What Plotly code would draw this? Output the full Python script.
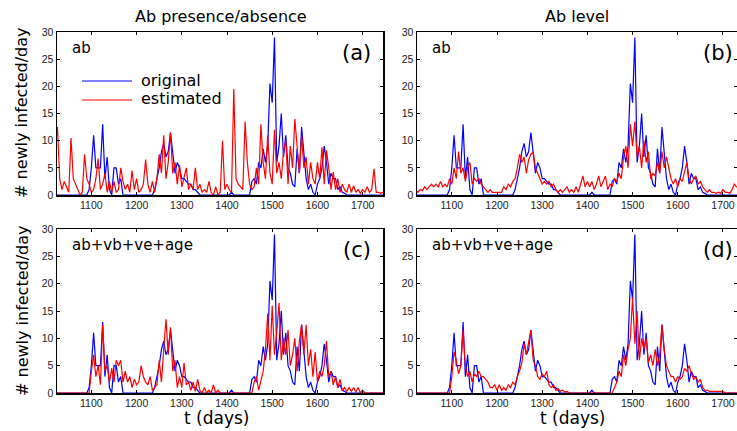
import plotly.graph_objects as go

# ---------------- data (5-day sampling) ----------------
t_days = list(range(1020, 1746, 5))

original = [
    0, 0, 0, 0, 0, 0, 0, 0, 0, 0,
    0, 0, 0, 0, 0, 1, 5, 11, 5, 5,
    5, 13, 3, 7, 1, 0, 5, 5, 2, 3,
    0, 0, 0, 0, 0, 0, 0, 0, 0, 0,
    0, 0, 0, 0, 1, 3, 5, 8, 9.5, 7,
    8, 11.5, 8, 4, 6, 5, 3, 3, 2.5, 2,
    2, 1, 1, 0.5, 0, 0, 0, 0, 0, 0,
    0, 0, 0, 0, 0, 0, 0, 0, 0.5, 0,
    0, 0, 0, 0, 0, 0, 0, 2.5, 3, 2,
    6, 5, 8.5, 6, 9, 20.5, 17, 29, 6, 9,
    15, 7, 11, 5, 4, 2, 1.5, 8.5, 4, 12.5,
    7, 3, 1, 2, 0.5, 0, 2, 3, 5, 9,
    6, 2, 4, 3, 3, 1, 1.5, 0.5, 0.3, 0,
    0, 0, 0, 0, 0, 0, 0, 0, 0, 0,
    0, 0, 0, 0, 0, 0,
]

est_a = [
    9, 12.5, 3, 1, 2.5, 1.5, 0.5, 10.5, 3, 2,
    1, 0, 0.5, 7.5, 3, 2, 0.5, 1, 3, 6.7,
    1, 2, 4, 0.5, 2.5, 0.5, 2.5, 0.5, 1, 5,
    2.5, 1, 2, 0.5, 4.5, 1, 3, 0.5, 1, 2,
    6.5, 2, 0.5, 2.5, 0.5, 3, 7.5, 4, 11, 3,
    6, 11.5, 4, 6, 2, 5.5, 1.5, 3, 5, 1,
    2, 1, 5, 1, 2, 0.5, 1, 0.5, 2.5, 0.5,
    0, 1.5, 0, 0.5, 10, 1, 2, 1, 0.5, 19.5,
    3, 2, 1.5, 1, 13.5, 6, 2, 1, 1.5, 5,
    2, 13, 6, 3, 11, 4, 2, 12, 4, 6,
    3, 8, 10, 2, 9, 5, 14, 9, 4, 11,
    5, 7, 2, 6, 3, 2, 6, 3, 8.8, 2,
    8.2, 5, 1, 4.2, 1, 3, 0.5, 2, 1, 0.5,
    2, 0.5, 1.7, 0.5, 1, 0.3, 1, 0.5, 1.5, 0.5,
    1, 4.8, 0.5, 0.5, 0.3, 0.5,
]

est_b = [
    1, 0.5, 1, 0.8, 1.5, 1, 1.5, 2, 1.5, 2,
    1.5, 2.5, 1.5, 2, 1.5, 3, 2, 5, 3, 8,
    4, 5, 2.5, 5, 6, 2, 3, 2.5, 3, 2,
    1.5, 1, 0.5, 1, 0.5, 0.5, 0.5, 0.5, 0.5, 1.5,
    1, 2, 1.5, 2.5, 3, 5, 7.5, 6, 7, 4,
    6.5, 7.5, 8, 5, 4, 3, 2, 2.5, 2, 2.5,
    1.5, 2, 1, 0.5, 1, 0.5, 1, 1.5, 0.5, 1,
    0.5, 1.5, 0.5, 2, 3.5, 1.5, 2.5, 1.5, 2.5, 1,
    2, 3.5, 1.5, 2.5, 3.5, 1, 2, 1.5, 3, 2.5,
    4, 3, 7, 9, 5, 13, 9, 13.5, 7, 9,
    5, 10, 6, 8, 3, 4, 3.5, 6, 4, 8,
    5, 7, 5, 3, 2, 3, 1.5, 3, 2.5, 4,
    6, 3, 2, 3, 3.5, 2, 2.5, 1.5, 1, 0.5,
    1, 0.5, 0.5, 0.3, 0.5, 0.3, 1, 0.5, 0.5, 0.3,
    1, 2, 1.5, 1.5, 2, 1.5,
]

est_c = [
    0, 0, 0, 0, 0, 0, 0, 0, 0, 0,
    0, 0, 0, 0, 0, 0, 4, 7, 3, 5,
    1.5, 12.5, 4, 5, 2, 4.5, 2, 6, 5, 6,
    2, 4, 2, 3, 1, 2.5, 1.5, 2, 5, 3,
    2, 1.5, 3, 0.5, 1, 1.5, 6, 2, 8, 13.5,
    7, 12, 4, 6, 1, 3, 1, 5.5, 1.5, 2,
    0.5, 2, 0.3, 2.5, 0.5, 0, 1, 0, 0.5, 0,
    1.5, 0, 0.5, 0, 0, 0, 0, 0, 0, 0,
    0, 0, 0, 0, 0, 0, 0, 0, 2, 3,
    0.5, 2, 4, 8, 14.5, 6, 16, 7, 11, 16.5,
    6, 10, 7, 11.5, 5, 7, 10, 4, 9.5, 12.5,
    7, 12.5, 5, 8, 3, 7.5, 2, 4, 3, 5,
    9.5, 3, 4, 1.5, 3, 1, 2.5, 0.5, 1, 0.3,
    1, 0.3, 1, 0.2, 1, 0, 0.5, 0, 0, 0,
    0, 0, 0, 0, 0, 0,
]

est_d = [
    0, 0, 0, 0, 0, 0, 0, 0, 0, 0,
    0, 0, 0, 0, 0, 0, 3, 7.5, 6, 3.5,
    5, 11.5, 5, 3, 4, 2, 3.5, 3, 4, 3,
    3, 2.5, 2, 1, 1, 1.5, 0.5, 1.5, 0.5, 1,
    0.5, 1.5, 1, 2, 1.5, 3, 4, 5.5, 9, 7,
    9.5, 11.5, 6, 5, 3, 2.5, 3.5, 3, 4, 1.5,
    1, 1.5, 0.5, 0.8, 0.3, 0.5, 0.2, 0.3, 0, 0,
    0, 0, 0, 0, 0, 0, 0, 0, 0, 0,
    0, 0, 0, 0, 0, 0, 0, 0, 1, 2,
    4, 3, 7, 5, 8, 10, 17.5, 9, 15, 6,
    10, 8, 10, 5.5, 7, 5, 8, 5, 7, 12.5,
    8, 5, 4, 3, 3, 2, 3, 2.5, 3, 4.5,
    4, 5, 3.5, 2.5, 3, 2, 2.5, 1, 0.5, 0.5,
    0.3, 0.3, 0.2, 0.2, 0.2, 0.2, 0.3, 0, 0, 0,
    0, 0, 0, 0, 0, 0,
]

panel_series = [est_a, est_b, est_c, est_d]
panel_tags = ["(a)", "(b)", "(c)", "(d)"]
panel_models = ["ab", "ab", "ab+vb+ve+age", "ab+vb+ve+age"]
column_titles = ["Ab presence/absence", "Ab level"]
x_ticks = [1100, 1200, 1300, 1400, 1500, 1600, 1700]
y_ticks = [0, 5, 10, 15, 20, 25, 30]

for s in panel_series:
    assert len(s) == len(t_days)
assert len(original) == len(t_days)

# ---------------- layout helpers ----------------
W, H = 737, 431
def px(p):
    return p / W
def py(p):
    return 1 - p / H

BLUE = "#0000ff"
RED = "#ff0000"
TXT = "DejaVu Sans, Verdana, sans-serif"
TICKF = "Liberation Sans, Arial, sans-serif"

xdom = [[px(57), px(383)], [px(417), 1.0]]
ydom = [[py(195), py(32)], [py(393), py(229)]]
xranges = [[1024, 1745], [1023, 1731]]

fig = go.Figure()
layout = dict(
    template="none",
    width=W, height=H,
    margin=dict(l=0, r=0, t=0, b=0, pad=0, autoexpand=False),
    paper_bgcolor="white", plot_bgcolor="white",
    showlegend=False,
)

axis_common = dict(
    showline=True, linecolor="black", linewidth=1.5, mirror="ticks",
    ticks="inside", ticklen=3, tickwidth=1, tickcolor="black",
    showgrid=False, zeroline=False, automargin=False,
    tickfont=dict(family=TICKF, size=10.5, color="#222"),
)

annotations = []
shapes = []
for i in range(4):
    row, col = divmod(i, 2)
    n = i + 1
    xa = "x" if n == 1 else f"x{n}"
    ya = "y" if n == 1 else f"y{n}"
    xkey = "xaxis" if n == 1 else f"xaxis{n}"
    ykey = "yaxis" if n == 1 else f"yaxis{n}"
    layout[xkey] = dict(axis_common, domain=xdom[col], anchor=ya,
                        range=xranges[col], tickvals=x_ticks)
    layout[ykey] = dict(axis_common, domain=ydom[row], anchor=xa,
                        range=[0, 30], tickvals=y_ticks)
    fig.add_trace(go.Scatter(x=t_days, y=original, mode="lines", xaxis=xa, yaxis=ya,
                             line=dict(color=BLUE, width=1.2), name="original"))
    fig.add_trace(go.Scatter(x=t_days, y=panel_series[i], mode="lines", xaxis=xa, yaxis=ya,
                             line=dict(color=RED, width=1.2), name="estimated"))
    left = 57 if col == 0 else 417
    top = 32 if row == 0 else 229
    right = 383 if col == 0 else 737
    annotations.append(dict(text=panel_models[i], xref="paper", yref="paper",
                            x=px(left + 13), y=py(top + 16), xanchor="left", yanchor="middle",
                            showarrow=False, font=dict(family=TXT, size=15, color="black")))
    annotations.append(dict(text=panel_tags[i], xref="paper", yref="paper",
                            x=px(right - 10 if col == 0 else right - 2), y=py(top + 21),
                            xanchor="right", yanchor="middle",
                            showarrow=False, font=dict(family=TXT, size=21, color="black")))

# column titles
annotations.append(dict(text=column_titles[0], xref="paper", yref="paper", x=px(221), y=py(16),
                        xanchor="center", yanchor="middle",
                        showarrow=False, font=dict(family=TXT, size=16, color="black")))
annotations.append(dict(text=column_titles[1], xref="paper", yref="paper", x=px(577), y=py(16),
                        xanchor="center", yanchor="middle",
                        showarrow=False, font=dict(family=TXT, size=16, color="black")))
# y titles
for yc in (113, 311):
    annotations.append(dict(text="# newly infected/day", xref="paper", yref="paper",
                            x=px(22), y=py(yc), textangle=-90, showarrow=False,
                            xanchor="center", yanchor="middle",
                            font=dict(family=TXT, size=16, color="black")))
# x titles
for xc in (216, 572):
    annotations.append(dict(text="t (days)", xref="paper", yref="paper",
                            x=px(xc), y=py(418), showarrow=False,
                            xanchor="center", yanchor="middle",
                            font=dict(family=TXT, size=17, color="black")))

# legend (panel a)
for yy, col, lab in ((81, BLUE, "original"), (100, RED, "estimated")):
    shapes.append(dict(type="line", xref="paper", yref="paper",
                       x0=px(82), x1=px(132), y0=py(yy), y1=py(yy),
                       line=dict(color=col, width=1.2)))
    annotations.append(dict(text=lab, xref="paper", yref="paper", x=px(139), y=py(yy - 1),
                            xanchor="left", yanchor="middle", showarrow=False,
                            font=dict(family=TXT, size=16, color="black")))

layout["annotations"] = annotations
layout["shapes"] = shapes
fig.update_layout(**layout)
fig.write_html("out.html",
               config={"displayModeBar": False, "staticPlot": True},
               post_script="document.body.style.margin='0px';document.body.style.overflow='hidden';")
